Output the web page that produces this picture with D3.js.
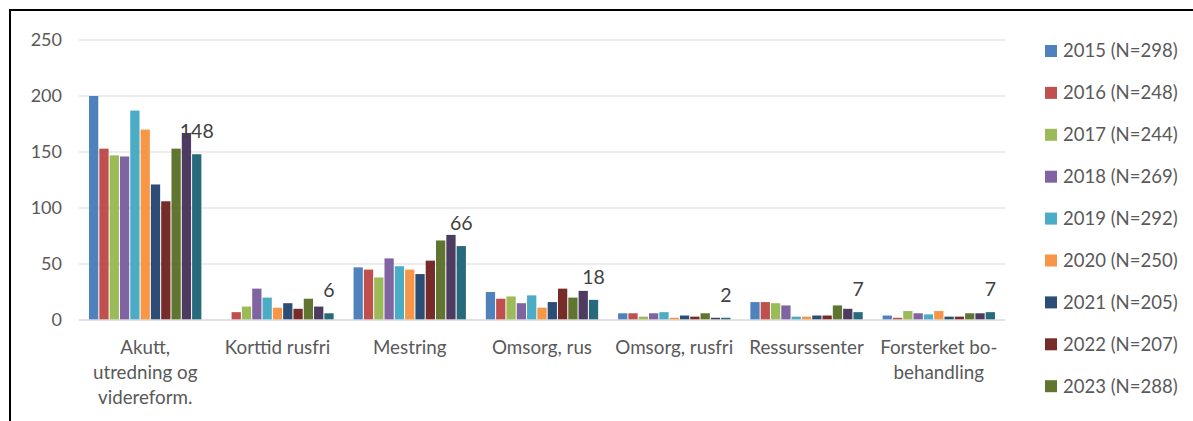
<!DOCTYPE html>
<html>
<head>
<meta charset="utf-8">
<script src="https://cdn.jsdelivr.net/npm/d3@7/dist/d3.min.js"></script>
<style>
  html, body { margin: 0; padding: 0; background: #fff; }
  svg { display: block; font-family: Lato, "Open Sans", sans-serif; }
</style>
</head>
<body>
<svg id="chart" width="1193" height="421"></svg>
<script>
const categories = [
  "Akutt,\nutredning og\nvidereform.",
  "Korttid rusfri",
  "Mestring",
  "Omsorg, rus",
  "Omsorg, rusfri",
  "Ressurssenter",
  "Forsterket bo-\nbehandling"
];
// legend entries visible in the picture (the last two series fall outside the frame)
const seriesNames = [
  "2015 (N=298)", "2016 (N=248)", "2017 (N=244)", "2018 (N=269)",
  "2019 (N=292)", "2020 (N=250)", "2021 (N=205)", "2022 (N=207)",
  "2023 (N=288)"
];
const colors = ["#4F81BD", "#C0504D", "#9BBB59", "#8064A2", "#4BACC6", "#F79646",
                "#2C4D75", "#772C2A", "#5F7530", "#4D3B62", "#276A7C"];
// values per series, one entry per category
const s2015 = [200, 0, 47, 25, 6, 16, 4];
const s2016 = [153, 7, 45, 19, 6, 16, 2];
const s2017 = [147, 12, 38, 21, 3, 15, 8];
const s2018 = [146, 28, 55, 15, 6, 13, 6];
const s2019 = [187, 20, 48, 22, 7, 3, 5];
const s2020 = [170, 11, 45, 11, 2, 3, 8];
const s2021 = [121, 15, 41, 16, 4, 4, 3];
const s2022 = [106, 10, 53, 28, 3, 4, 3];
const s2023 = [153, 19, 71, 20, 6, 13, 6];
const s2024 = [167, 12, 76, 26, 2, 10, 6];
const s2025 = [148, 6, 66, 18, 2, 7, 7];
const series = [s2015, s2016, s2017, s2018, s2019, s2020, s2021, s2022, s2023, s2024, s2025];
const yTicks = [0, 50, 100, 150, 200, 250];

const svg = d3.select("#chart");
const textColor = "#595959";

// frame
svg.append("rect").attr("x", 10).attr("y", 10).attr("width", 1300).attr("height", 600)
  .attr("fill", "none").attr("stroke", "#000").attr("stroke-width", 2);

const plot = { left: 79, right: 1005, top: 40, bottom: 320 };
const y = d3.scaleLinear().domain([0, 250]).range([plot.bottom, plot.top]);
const x0 = d3.scaleBand().domain(d3.range(categories.length)).range([plot.left, plot.right]).paddingInner(0.135).paddingOuter(0.068);
const x1 = d3.scaleBand().domain(d3.range(series.length)).range([0, x0.bandwidth()]).padding(0.1);

// gridlines
svg.append("g").selectAll("line").data(yTicks.filter(t => t > 0)).join("line")
  .attr("x1", plot.left).attr("x2", plot.right)
  .attr("y1", d => y(d)).attr("y2", d => y(d))
  .attr("stroke", "#D9D9D9").attr("stroke-width", 1.2);

// y axis labels
const yAxis = d3.axisLeft(y).tickValues(yTicks).tickSize(0).tickPadding(0);
const ya = svg.append("g").attr("transform", "translate(62,0)").call(yAxis);
ya.select(".domain").remove();
ya.selectAll("text").attr("fill", textColor).attr("font-size", 18).attr("font-family", "Lato, sans-serif");

// bars
const groups = svg.append("g").selectAll("g").data(series).join("g")
  .attr("fill", (d, i) => colors[i]);
groups.each(function (vals, si) {
  d3.select(this).selectAll("rect").data(vals).join("rect")
    .attr("x", (v, ci) => x0(ci) + x1(si))
    .attr("width", x1.bandwidth())
    .attr("y", v => y(v))
    .attr("height", v => y(0) - y(v));
});

// data labels for last series
const last = series.length - 1;
svg.append("g").selectAll("text").data(series[last]).join("text")
  .attr("x", (v, ci) => x0(ci) + x1(last) + x1.bandwidth() / 2)
  .attr("y", v => y(v) - 16)
  .attr("text-anchor", "middle")
  .attr("fill", "#404040").attr("font-size", 19.5)
  .text(v => v);

// x axis line
svg.append("line").attr("x1", plot.left).attr("x2", plot.right)
  .attr("y1", y(0)).attr("y2", y(0)).attr("stroke", "#D9D9D9").attr("stroke-width", 1.5);

// category labels
const xAxis = d3.axisBottom(x0).tickSize(0).tickFormat(() => "");
const xa = svg.append("g").attr("transform", `translate(0,${plot.bottom})`).call(xAxis);
xa.select(".domain").remove();
xa.selectAll(".tick").each(function (ci) {
  const lines = categories[ci].split("\n");
  const t = d3.select(this).append("text")
    .attr("fill", textColor).attr("font-size", 18.8).attr("text-anchor", "middle")
    .attr("font-family", "Lato, sans-serif");
  lines.forEach((ln, k) => {
    t.append("tspan").attr("x", 0).attr("y", 34 + k * 25).text(ln);
  });
});

// legend
const legend = svg.append("g").selectAll("g").data(seriesNames).join("g")
  .attr("transform", (d, i) => `translate(1045,${51 + i * 41.9})`);
legend.append("rect").attr("x", 0).attr("y", -6).attr("width", 12).attr("height", 12)
  .attr("fill", (d, i) => colors[i]);
legend.append("text").attr("x", 18).attr("y", 0).attr("dy", "0.35em")
  .attr("fill", textColor).attr("font-size", 18.5).text(d => d);
</script>
</body>
</html>
